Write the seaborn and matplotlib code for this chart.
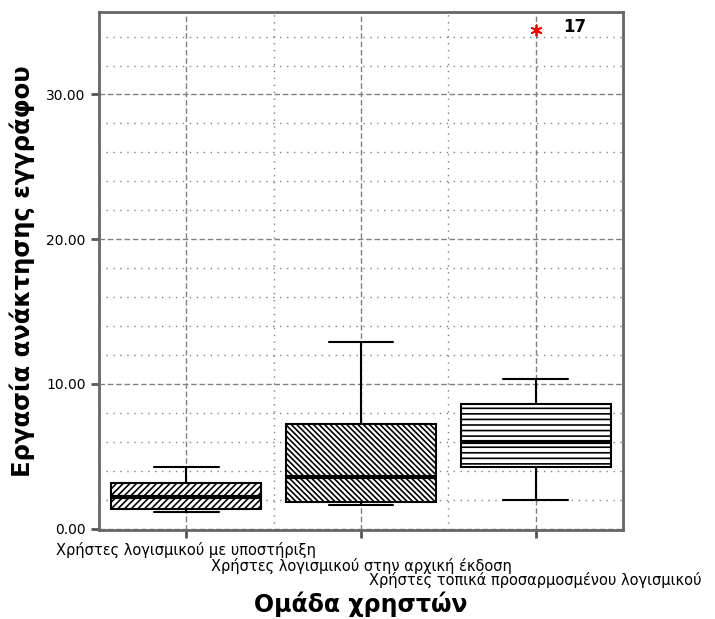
import numpy as np
import pandas as pd
import matplotlib
matplotlib.use("Agg")
import matplotlib.pyplot as plt
import seaborn as sns
from matplotlib.ticker import MultipleLocator, FixedLocator

# ---- data ----
groups = [
    "Χρήστες λογισμικού με υποστήριξη",
    "Χρήστες λογισμικού στην αρχική έκδοση",
    "Χρήστες τοπικά προσαρμοσμένου λογισμικού",
]
# five-number summaries per group: lower whisker, Q1, median, Q3, upper whisker
g1_values = [1.15, 1.35, 2.2, 3.13, 4.25]
g2_values = [1.63, 1.83, 3.58, 7.23, 12.89]
g3_values = [1.97, 4.28, 6.0, 8.62, 10.37]
outlier_group = groups[2]
outlier_value = 34.45
outlier_label = "17"
y_ticks = [0, 10, 20, 30]
y_tick_labels = ["0.00", "10.00", "20.00", "30.00"]
x_label = "Ομάδα χρηστών"
y_label = "Εργασία ανάκτησης εγγράφου"
hatches = ["/////", "\\\\\\\\\\\\", "---"]

df = pd.DataFrame({
    "group": [groups[0]] * len(g1_values) + [groups[1]] * len(g2_values) + [groups[2]] * len(g3_values),
    "value": g1_values + g2_values + g3_values,
})

sns.set_style("white")
plt.rcParams["font.family"] = ["DejaVu Sans"]
plt.rcParams["hatch.linewidth"] = 1.2
plt.rcParams["text.color"] = "black"
plt.rcParams["axes.labelcolor"] = "black"
plt.rcParams["xtick.color"] = "black"
plt.rcParams["ytick.color"] = "black"

fig = plt.figure(figsize=(7.15, 6.19), dpi=100)
ax = fig.add_axes([99 / 715, 89 / 619, 524 / 715, 518 / 619])

sns.boxplot(data=df, x="group", y="value", order=groups, width=0.86,
            color="white", linecolor="black", linewidth=1.5, fliersize=0,
            medianprops={"linewidth": 3}, capwidths=0.37, ax=ax)

for p, h in zip(ax.patches, hatches):
    p.set_hatch(h)
    p.set_facecolor("white")
    p.set_edgecolor("black")

sns.scatterplot(x=[groups.index(outlier_group)], y=[outlier_value], marker=(6, 2, 0),
                color="red", linewidth=1.3, s=55, ax=ax, zorder=5)
ax.annotate(outlier_label, xy=(groups.index(outlier_group), outlier_value),
            xytext=(20, 2), textcoords="offset points", fontweight="bold",
            fontsize=12, va="center", ha="left", color="black")

ax.set_xlim(-0.5, 2.5)
ax.set_ylim(-0.1, 35.7)
ax.set_yticks(y_ticks)
ax.set_yticklabels(y_tick_labels, fontsize=10)
ax.yaxis.set_minor_locator(MultipleLocator(2))
ax.xaxis.set_minor_locator(FixedLocator([0.5, 1.5]))

ax.set_axisbelow(True)
ax.grid(which="major", axis="both", linestyle=(0, (4, 2)), color="#808080", linewidth=1.0)
ax.grid(which="minor", axis="both", linestyle=(0, (1, 4)), color="#808080", linewidth=1.0)

ax.tick_params(which="major", axis="both", direction="out", length=6, width=2,
               bottom=True, left=True)
ax.tick_params(which="major", axis="both", color="#555555")
ax.tick_params(which="minor", length=0)
ax.tick_params(axis="x", labelsize=10.5)

for s in ax.spines.values():
    s.set_color("#666666")
    s.set_linewidth(2)

pads = [2.5, 14, 24.5]
for t, pad in zip(ax.xaxis.get_major_ticks(), pads):
    t.set_pad(pad)

ax.set_xlabel(x_label, fontsize=17, fontweight="bold", labelpad=2)
ax.set_ylabel(y_label, fontsize=17.5, fontweight="bold", labelpad=8)

fig.savefig("out.png", dpi=100)
